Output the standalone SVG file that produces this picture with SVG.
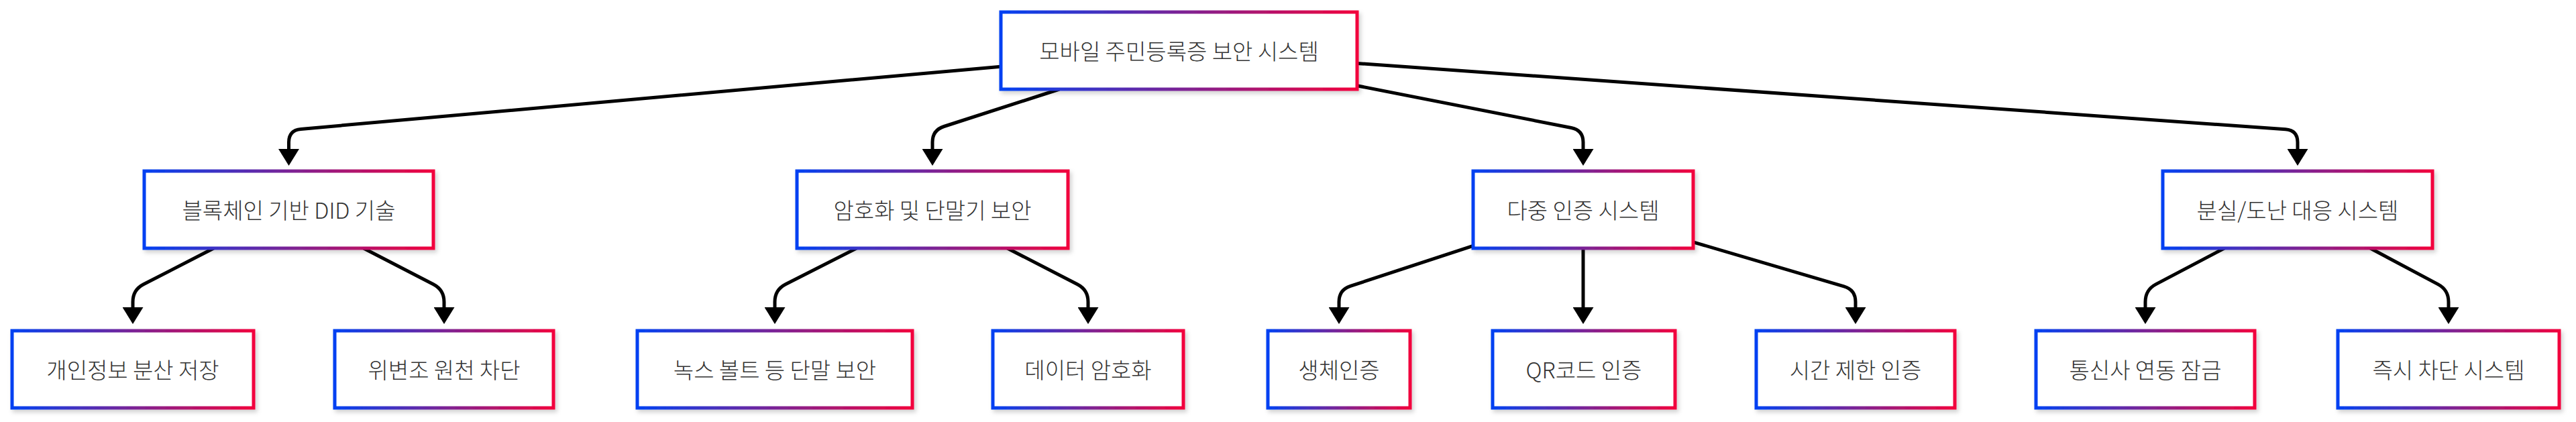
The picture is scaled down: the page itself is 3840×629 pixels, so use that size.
<svg xmlns="http://www.w3.org/2000/svg" width="3840" height="629" viewBox="0 0 3840 629">
  <style>
    .node rect { fill: #ffffff; stroke: url(#grad); stroke-width: 5; filter: url(#shadow); }
    .node text { font-family: "Noto Sans CJK KR", "Noto Sans", sans-serif; font-size: 33px; font-weight: 300; fill: #333333; text-anchor: middle; dominant-baseline: central; }
    .edge { fill: none; stroke: #000000; stroke-width: 5; marker-end: url(#arrow); }
  </style>
  <defs>
    <linearGradient id="grad" x1="0" y1="0" x2="1" y2="0">
      <stop offset="0" stop-color="#0041F2"/>
      <stop offset="0.5" stop-color="#7A2396"/>
      <stop offset="1" stop-color="#F2003C"/>
    </linearGradient>
    <filter id="shadow" x="-10%" y="-20%" width="120%" height="150%">
      <feDropShadow dx="3" dy="4" stdDeviation="3" flood-color="#000000" flood-opacity="0.18"/>
    </filter>
    <marker id="arrow" markerUnits="userSpaceOnUse" markerWidth="25" markerHeight="31" refX="0" refY="15.5" orient="auto">
      <path d="M0,0 L25,15.5 L0,31 z" fill="#000000"/>
    </marker>
  </defs>
  <rect width="3840" height="629" fill="#ffffff"/>

  <g id="connectors">
    <path class="edge" d="M1492,99.2 L448.4,192.4 Q430.5,194 430.5,212 L430.5,222"/>
    <path class="edge" d="M1579.2,133 L1407.1,188.5 Q1390,194 1390,212 L1390,222"/>
    <path class="edge" d="M2023,127.7 L2342.3,190.5 Q2360,194 2360,212 L2360,222"/>
    <path class="edge" d="M2023,94.4 L3407,192.7 Q3425,194 3425,212 L3425,222"/>
    <path class="edge" d="M318.6,370 L214,423.8 Q198,432 198,450 L198,458"/>
    <path class="edge" d="M541.9,370 L646,423.7 Q662,432 662,450 L662,458"/>
    <path class="edge" d="M1276.9,370 L1171,423.8 Q1155,432 1155,450 L1155,458"/>
    <path class="edge" d="M1501.6,370 L1606,423.8 Q1622,432 1622,450 L1622,458"/>
    <path class="edge" d="M2196,366.3 L2013.1,426.4 Q1996,432 1996,450 L1996,458"/>
    <path class="edge" d="M2360,370 L2360,458"/>
    <path class="edge" d="M2524,360.8 L2748.7,426.9 Q2766,432 2766,450 L2766,458"/>
    <path class="edge" d="M3315.8,370 L3213.9,423.6 Q3198,432 3198,450 L3198,458"/>
    <path class="edge" d="M3533.3,370 L3634.1,423.6 Q3650,432 3650,450 L3650,458"/>
  </g>

  <g id="node-root" class="node">
    <rect x="1492" y="18" width="531" height="115"/>
    <text x="1757.5" y="74.5">모바일 주민등록증 보안 시스템</text>
  </g>

  <g id="node-did" class="node">
    <rect x="215" y="255" width="431" height="115"/>
    <text x="430.5" y="311.5">블록체인 기반 DID 기술</text>
  </g>
  <g id="node-crypto" class="node">
    <rect x="1188" y="255" width="404" height="115"/>
    <text x="1390" y="311.5">암호화 및 단말기 보안</text>
  </g>
  <g id="node-mfa" class="node">
    <rect x="2196" y="255" width="328" height="115"/>
    <text x="2360" y="311.5">다중 인증 시스템</text>
  </g>
  <g id="node-loss" class="node">
    <rect x="3224" y="255" width="402" height="115"/>
    <text x="3425" y="311.5">분실/도난 대응 시스템</text>
  </g>

  <g id="node-dist" class="node">
    <rect x="18" y="493" width="360" height="115"/>
    <text x="198" y="549.5">개인정보 분산 저장</text>
  </g>
  <g id="node-tamper" class="node">
    <rect x="499" y="493" width="326" height="115"/>
    <text x="662" y="549.5">위변조 원천 차단</text>
  </g>
  <g id="node-knox" class="node">
    <rect x="950" y="493" width="410" height="115"/>
    <text x="1155" y="549.5">녹스 볼트 등 단말 보안</text>
  </g>
  <g id="node-data" class="node">
    <rect x="1480" y="493" width="284" height="115"/>
    <text x="1622" y="549.5">데이터 암호화</text>
  </g>
  <g id="node-bio" class="node">
    <rect x="1890" y="493" width="212" height="115"/>
    <text x="1996" y="549.5">생체인증</text>
  </g>
  <g id="node-qr" class="node">
    <rect x="2225" y="493" width="272" height="115"/>
    <text x="2361" y="549.5">QR코드 인증</text>
  </g>
  <g id="node-time" class="node">
    <rect x="2618" y="493" width="296" height="115"/>
    <text x="2766" y="549.5">시간 제한 인증</text>
  </g>
  <g id="node-telco" class="node">
    <rect x="3035" y="493" width="326" height="115"/>
    <text x="3198" y="549.5">통신사 연동 잠금</text>
  </g>
  <g id="node-block" class="node">
    <rect x="3485" y="493" width="330" height="115"/>
    <text x="3650" y="549.5">즉시 차단 시스템</text>
  </g>
</svg>
